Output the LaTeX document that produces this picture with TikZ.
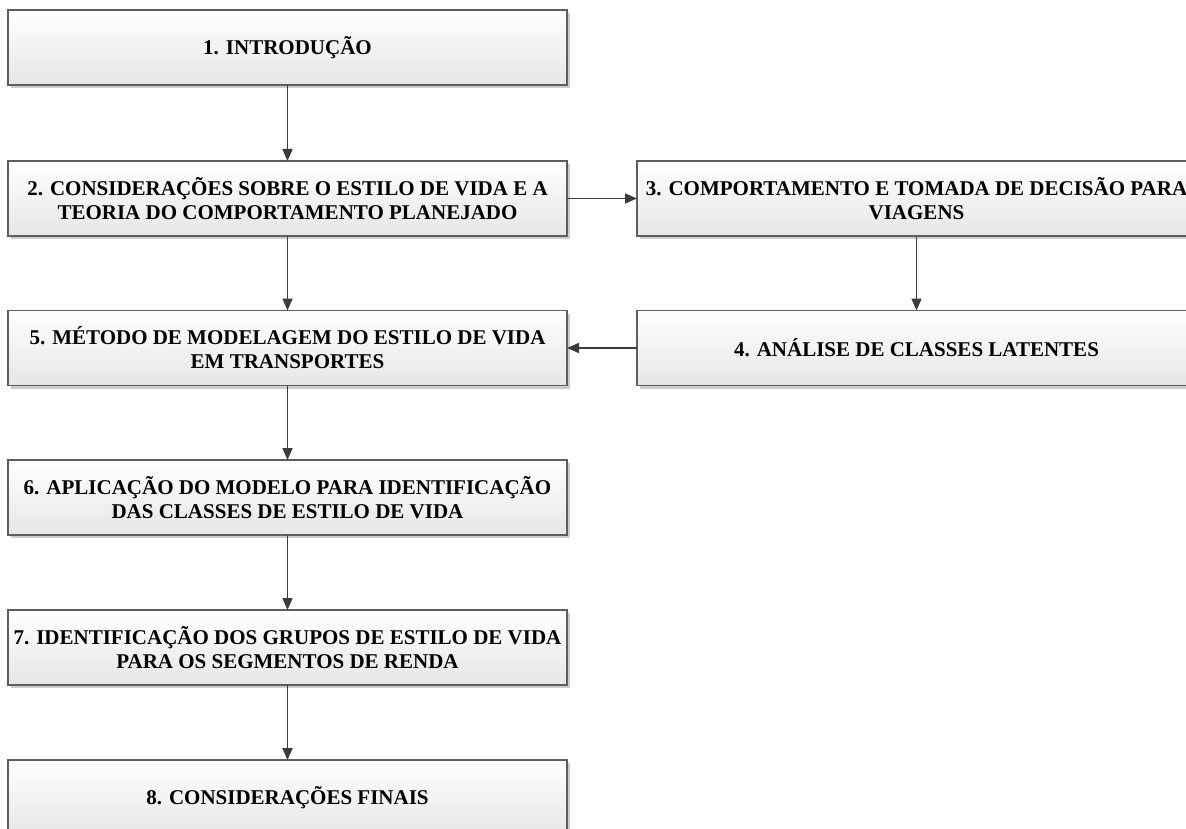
\documentclass[tikz,border=0pt]{standalone}
\usepackage{fontspec}
\setmainfont{Liberation Serif}
\usetikzlibrary{arrows.meta,shadows}

\definecolor{boxline}{HTML}{5E5E5E}
\definecolor{arrowline}{HTML}{3C3C3C}
\definecolor{boxbottom}{HTML}{E6E6E6}

\tikzset{
  stage/.style={
    rectangle, draw=boxline, line width=1.5pt,
    top color=white, bottom color=boxbottom,
    minimum width=559pt, minimum height=75pt,
    inner sep=0pt, outer sep=0pt, align=center,
    font=\fontsize{21pt}{24pt}\selectfont\bfseries,
    drop shadow={shadow xshift=3pt, shadow yshift=-3pt, fill=black!20, opacity=1}
  },
  flow/.style={draw=arrowline, line width=1.7pt,
    -{Triangle[length=12pt,width=10pt]}}
}

\begin{document}
\begin{tikzpicture}[x=1pt,y=-1pt]
  \useasboundingbox (0,0) rectangle (1186,829);
  \clip (0,0) rectangle (1186,829);

  % left column
  \node[stage] (s1) at (287.5,47.5) {1. INTRODUÇÃO};
  \node[stage] (s2) at (287.5,198.5) {2. CONSIDERAÇÕES SOBRE O ESTILO DE VIDA E A\\TEORIA DO COMPORTAMENTO PLANEJADO};
  \node[stage] (s5) at (287.5,348) {5. MÉTODO DE MODELAGEM DO ESTILO DE VIDA\\EM TRANSPORTES};
  \node[stage] (s6) at (287.5,497.5) {6. APLICAÇÃO DO MODELO PARA IDENTIFICAÇÃO\\DAS CLASSES DE ESTILO DE VIDA};
  \node[stage] (s7) at (287.5,647.5) {7. IDENTIFICAÇÃO DOS GRUPOS DE ESTILO DE VIDA\\PARA OS SEGMENTOS DE RENDA};
  \node[stage] (s8) at (287.5,797.5) {8. CONSIDERAÇÕES FINAIS};

  % right column
  \node[stage] (s3) at (916.5,198.5) {3. COMPORTAMENTO E TOMADA DE DECISÃO PARA\\VIAGENS};
  \node[stage] (s4) at (916.5,348) {4. ANÁLISE DE CLASSES LATENTES};

  % connectors
  \draw[flow] (s1) -- (s2);
  \draw[flow] (s2) -- (s3);
  \draw[flow] (s2) -- (s5);
  \draw[flow] (s3) -- (s4);
  \draw[flow] (s4) -- (s5);
  \draw[flow] (s5) -- (s6);
  \draw[flow] (s6) -- (s7);
  \draw[flow] (s7) -- (s8);
\end{tikzpicture}
\end{document}
